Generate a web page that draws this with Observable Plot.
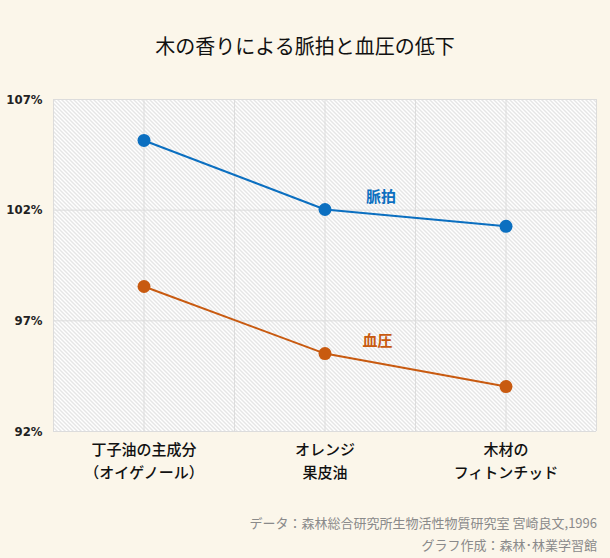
<!DOCTYPE html>
<html><head><meta charset="utf-8">
<script src="https://cdn.jsdelivr.net/npm/d3@7"></script>
<script src="https://cdn.jsdelivr.net/npm/@observablehq/plot@0.6"></script>
<style>
body{margin:0;background:#fbf6ea;font-family:"Noto Sans CJK JP",sans-serif;width:610px;height:558px;overflow:hidden}
#title{padding-top:34px;height:24px;line-height:24px;font-size:20px;text-align:center;color:#111;}
#cap{text-align:right;padding-right:13px;color:#8a8a8a;font-size:13px;line-height:22px;margin-top:21px;}
</style></head>
<body>
<div id="title">木の香りによる脈拍と血圧の低下</div>
<div id="chart"></div>
<div id="cap">データ：森林総合研究所生物活性物質研究室 宮崎良文,1996<br>グラフ作成：森林･林業学習館</div>
<script>
const categories = ["丁子油の主成分\n（オイゲノール）", "オレンジ\n果皮油", "木材の\nフィトンチッド"];
const pulse = [105.15, 102.03, 101.27];     // 脈拍 (%)
const pressure = [98.55, 95.52, 94.03];     // 血圧 (%)
const yTicks = [92, 97, 102, 107];
const seriesNames = ["脈拍", "血圧"];
const labelX = [1.31, 1.29];
const labelY = [102.6, 96.06];
const colors = ["#0b6fc0", "#c85a10"];

const pulseData = pulse.map((v, i) => ({i, v}));
const pressureData = pressure.map((v, i) => ({i, v}));
const labels = seriesNames.map((n, k) => ({n, x: labelX[k], y: labelY[k], c: colors[k]}));
const vgrid = d3.range(-0.5, 2.51, 0.5);

const plot = Plot.plot({
  width: 610,
  height: 433,
  marginTop: 41,
  marginLeft: 53,
  marginRight: 14,
  marginBottom: 60,
  style: {background: "transparent", fontFamily: "Noto Sans CJK JP"},
  x: {domain: [-0.5, 2.5], axis: null},
  y: {domain: [92, 107], axis: null},
  marks: [
    Plot.frame({fill: "white", stroke: null}),
    Plot.frame({fill: "url(#hatch)", stroke: null}),
    Plot.ruleX(vgrid, {stroke: "#dcdcdc", strokeWidth: 1}),
    Plot.ruleY(yTicks, {stroke: "#dcdcdc", strokeWidth: 1}),
    Plot.axisY(yTicks, {tickSize: 0, tickPadding: 11, tickFormat: d => d + "%", fontSize: 13, fontWeight: "bold", fill: "#222", fontFamily: "DejaVu Sans Condensed", stroke: null}),
    Plot.axisX([0, 1, 2], {tickSize: 0, tickPadding: 8, tickFormat: i => categories[i], fontSize: 15, fontWeight: 500, fill: "#111", lineHeight: 1.5}),
    Plot.line(pulseData, {x: "i", y: "v", stroke: colors[0], strokeWidth: 2}),
    Plot.dot(pulseData, {x: "i", y: "v", fill: colors[0], r: 6.5}),
    Plot.line(pressureData, {x: "i", y: "v", stroke: colors[1], strokeWidth: 2}),
    Plot.dot(pressureData, {x: "i", y: "v", fill: colors[1], r: 6.5}),
    Plot.text(labels, {x: "x", y: "y", text: "n", fill: "c", fontSize: 15, fontWeight: "bold"})
  ]
});
const ns = "http://www.w3.org/2000/svg";
const defs = document.createElementNS(ns, "defs");
defs.innerHTML = '<pattern id="hatch" patternUnits="userSpaceOnUse" width="4" height="4"><path d="M-1,-1L5,5M3,-1L5,1M-1,3L1,5" stroke="#c6c6c6" stroke-width="0.9"/></pattern>';
plot.insertBefore(defs, plot.firstChild);
document.getElementById("chart").appendChild(plot);
</script>
</body></html>
